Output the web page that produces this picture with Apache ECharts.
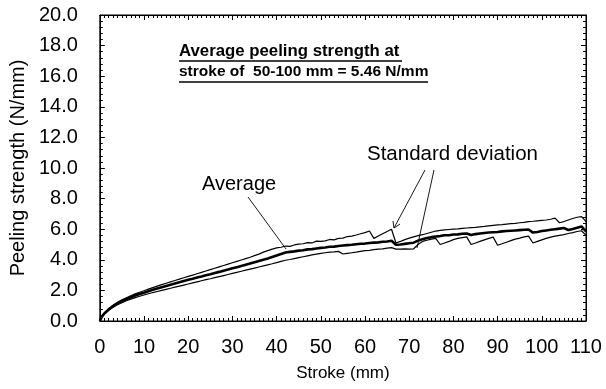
<!DOCTYPE html>
<html><head><meta charset="utf-8">
<script src="https://cdn.jsdelivr.net/npm/echarts@6/dist/echarts.min.js"></script>
<style>html,body{margin:0;padding:0;background:#fff}#c{width:606px;height:389px}</style>
</head><body><div id="c"></div>
<script>
var stroke = [0,0.5,1,2,3,4,5,6,7,8,9,10,11,12,13,14,15,16,17,18,19,20,21,22,23,24,25,26,27,28,29,30,31,32,33,34,35,36,37,38,39,40,41,42,43,44,45,46,47,48,49,50,51,52,53,54,55,56,57,58,59,60,61,62,63,64,65,66,67,68,69,70,71,72,73,74,75,76,77,78,79,80,81,82,83,84,85,86,87,88,89,90,91,92,93,94,95,96,97,98,99,100,101,102,103,104,105,106,107,108,109,110];
var average = [0,0.3,0.48,0.75,0.97,1.15,1.3,1.43,1.55,1.66,1.76,1.85,1.95,2.04,2.13,2.21,2.29,2.37,2.45,2.53,2.61,2.69,2.76,2.84,2.91,2.99,3.06,3.14,3.21,3.29,3.36,3.44,3.52,3.6,3.68,3.76,3.84,3.92,4.0,4.08,4.18,4.28,4.38,4.48,4.52,4.55,4.6,4.62,4.68,4.7,4.74,4.78,4.8,4.85,4.86,4.9,4.93,4.96,4.98,5.02,5.05,5.06,5.1,5.12,5.14,5.18,5.2,5.24,4.98,5.0,5.04,5.08,5.12,5.25,5.35,5.42,5.48,5.52,5.55,5.6,5.6,5.65,5.66,5.7,5.72,5.62,5.68,5.72,5.75,5.78,5.8,5.82,5.86,5.88,5.9,5.92,5.94,5.96,5.98,5.78,5.82,5.88,5.92,5.96,6.0,6.04,6.08,5.95,6.02,6.1,6.18,5.85];
var upperSD = [0,0.32,0.52,0.8,1.03,1.22,1.38,1.52,1.65,1.77,1.88,1.98,2.08,2.18,2.28,2.38,2.47,2.56,2.65,2.74,2.83,2.92,3.0,3.09,3.18,3.27,3.36,3.45,3.54,3.63,3.72,3.81,3.9,3.99,4.08,4.17,4.27,4.37,4.5,4.6,4.7,4.78,4.82,4.9,4.88,4.97,5.02,5.05,5.12,5.1,5.22,5.2,5.24,5.33,5.3,5.4,5.42,5.52,5.55,5.62,5.7,5.78,5.88,5.4,5.55,5.7,5.85,6.0,5.1,5.2,5.32,5.42,5.5,5.58,5.64,5.72,5.8,5.88,5.92,5.96,5.98,6.0,6.02,6.05,6.08,6.1,6.12,6.15,6.18,6.22,6.25,6.28,6.3,6.33,6.36,6.38,6.42,6.45,6.5,6.52,6.55,6.58,6.6,6.65,6.72,6.42,6.5,6.6,6.7,6.78,6.82,6.5];
var lowerSD = [0,0.28,0.45,0.7,0.9,1.06,1.2,1.32,1.43,1.53,1.62,1.7,1.78,1.86,1.93,2.0,2.07,2.14,2.21,2.28,2.35,2.42,2.49,2.56,2.63,2.7,2.76,2.83,2.9,2.97,3.04,3.11,3.18,3.25,3.32,3.39,3.46,3.53,3.6,3.67,3.74,3.82,3.9,3.97,4.02,4.08,4.14,4.2,4.26,4.32,4.37,4.42,4.46,4.5,4.52,4.55,4.38,4.42,4.46,4.5,4.55,4.6,4.62,4.66,4.7,4.72,4.76,4.8,4.7,4.7,4.72,4.7,4.72,5.0,5.2,5.28,5.35,5.4,5.0,5.1,5.2,5.32,5.4,5.45,5.5,5.0,5.1,5.2,5.3,5.4,5.48,4.95,5.05,5.15,5.25,5.35,5.42,5.5,5.55,5.1,5.2,5.3,5.4,5.48,5.55,5.6,5.65,5.72,5.78,5.85,5.9,5.6];
var xTicks = [0,10,20,30,40,50,60,70,80,90,100,110];
var yTicks = [0,2,4,6,8,10,12,14,16,18,20];

function pairs(ys){ return stroke.map(function(x,i){ return [x, ys[i]]; }); }
var FONT = 'Liberation Sans, Arial, sans-serif';
var chart = echarts.init(document.getElementById('c'), null, {renderer:'canvas'});
var tickCommon = {show:true, inside:true, length:5, lineStyle:{color:'#000', width:1}};
var minorX = {show:true, splitNumber:10, length:3, lineStyle:{color:'#000', width:1}};
var minorY = {show:true, splitNumber:5, length:3, lineStyle:{color:'#000', width:1}};
var option = {
  animation:false,
  backgroundColor:'#fff',
  grid:{left:99, top:15, right:20, bottom:68, show:true, borderColor:'#000', borderWidth:1},
  xAxis:[{
    type:'value', min:xTicks[0], max:xTicks[xTicks.length-1], interval:10,
    axisLine:{show:true, onZero:false, lineStyle:{color:'#000', width:1}},
    axisTick:tickCommon, minorTick:minorX, splitLine:{show:false},
    axisLabel:{color:'#000', fontSize:20, fontFamily:FONT, margin:16},
    name:'Stroke (mm)', nameLocation:'middle', nameGap:44,
    nameTextStyle:{color:'#000', fontSize:17, fontFamily:FONT}
  },{
    type:'value', position:'top', min:xTicks[0], max:xTicks[xTicks.length-1], interval:10,
    axisLine:{show:true, onZero:false, lineStyle:{color:'#000', width:1}},
    axisTick:tickCommon, minorTick:minorX, splitLine:{show:false}, axisLabel:{show:false}
  }],
  yAxis:[{
    type:'value', min:yTicks[0], max:yTicks[yTicks.length-1], interval:2,
    axisLine:{show:true, onZero:false, lineStyle:{color:'#000', width:1}},
    axisTick:tickCommon, minorTick:minorY,
    splitLine:{show:false},
    axisLabel:{color:'#000', fontSize:20, fontFamily:FONT, margin:22, formatter:function(v){return v.toFixed(1);}},
    name:'Peeling strength (N/mm)', nameLocation:'middle', nameGap:64,
    nameTextStyle:{color:'#000', fontSize:20, fontFamily:FONT}
  },{
    type:'value', position:'right', min:yTicks[0], max:yTicks[yTicks.length-1], interval:2,
    axisLine:{show:true, onZero:false, lineStyle:{color:'#000', width:1}},
    axisTick:tickCommon, minorTick:minorY,
    splitLine:{show:false}, axisLabel:{show:false}
  }],
  series:[
    {type:'line', name:'Upper SD', data:pairs(upperSD), showSymbol:false, symbol:'none', lineStyle:{color:'#000', width:1.2}, z:2},
    {type:'line', name:'Lower SD', data:pairs(lowerSD), showSymbol:false, symbol:'none', lineStyle:{color:'#000', width:1.2}, z:2},
    {type:'line', name:'Average', data:pairs(average), showSymbol:false, symbol:'none', lineStyle:{color:'#000', width:2.6}, z:3}
  ],
  graphic:[
    {type:'text', left:179, top:43, style:{text:'Average peeling strength at', font:'bold 16.8px '+FONT, fill:'#000'}},
    {type:'line', shape:{x1:179,y1:61,x2:402,y2:61}, style:{stroke:'#000', lineWidth:1.4}},
    {type:'text', left:179, top:64, style:{text:'stroke of  50-100 mm = 5.46 N/mm', font:'bold 15.5px '+FONT, fill:'#000'}},
    {type:'line', shape:{x1:179,y1:82,x2:428,y2:82}, style:{stroke:'#000', lineWidth:1.4}},
    {type:'text', left:367, top:144, style:{text:'Standard deviation', font:'20.5px '+FONT, fill:'#000'}},
    {type:'text', left:202, top:174, style:{text:'Average', font:'20px '+FONT, fill:'#000'}},
    {type:'line', shape:{x1:248,y1:197,x2:286,y2:249}, style:{stroke:'#000', lineWidth:0.9}},
    {type:'line', shape:{x1:425,y1:170,x2:394,y2:228}, style:{stroke:'#000', lineWidth:0.9}},
    {type:'polyline', shape:{points:[[393,221],[394,228],[400,224]]}, style:{stroke:'#000', lineWidth:0.9, fill:null}},
    {type:'line', shape:{x1:434,y1:170,x2:417,y2:248}, style:{stroke:'#000', lineWidth:0.9}}
  ]
};
chart.setOption(option);
</script></body></html>
